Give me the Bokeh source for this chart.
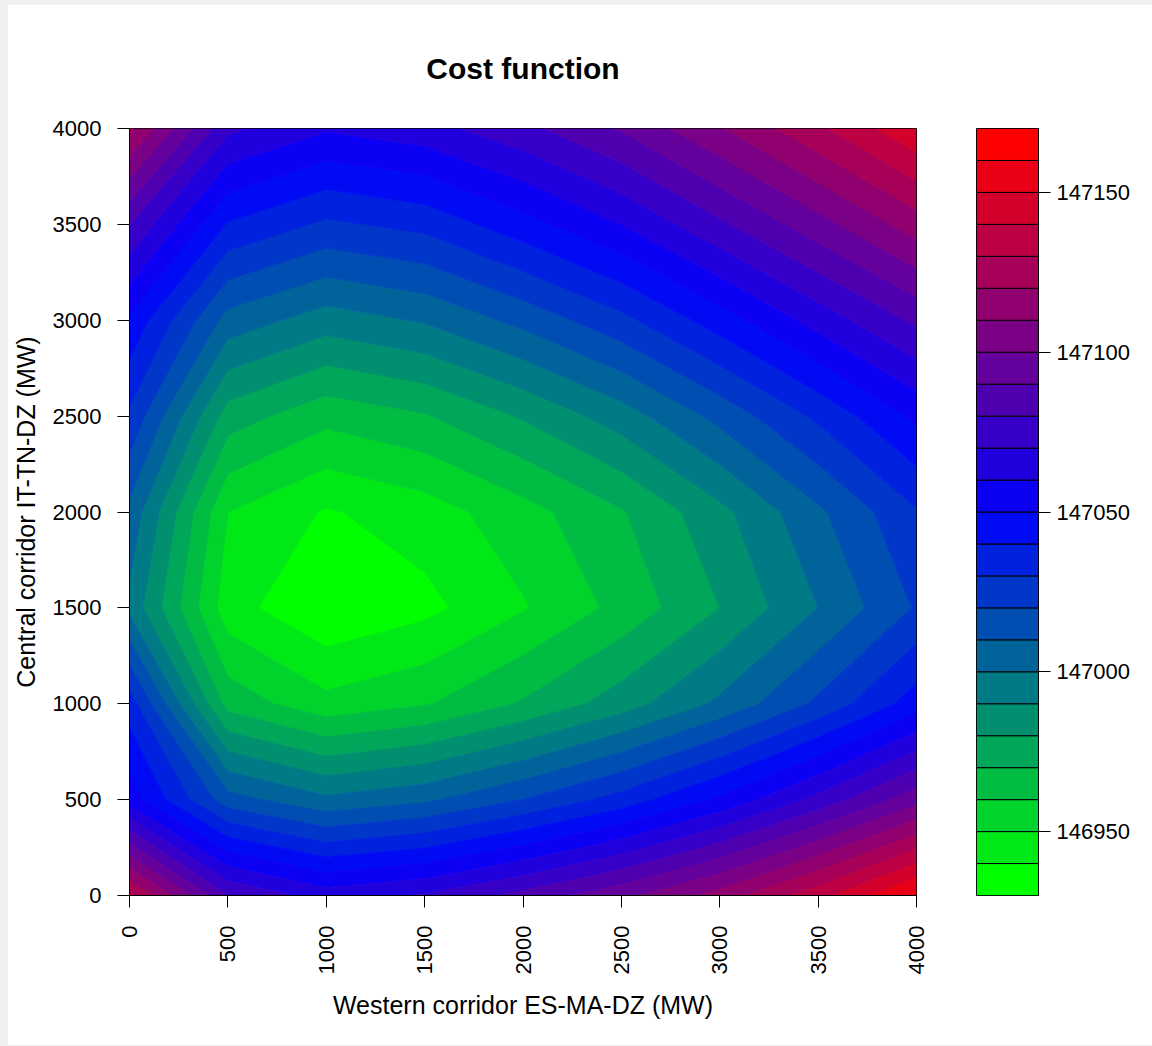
import math
from bokeh.plotting import figure
from bokeh.models import FixedTicker, Range1d, BasicTickFormatter
from bokeh.layouts import row
from bokeh.embed import file_html
from bokeh.resources import INLINE

# ---- data ----
x_mw = [0, 500, 1000, 1500, 2000, 2500, 3000, 3500, 4000]
y_mw = [0, 500, 1000, 1500, 2000, 2500, 3000, 3500, 4000]

cost_y0 = [147132, 147080, 147065, 147071, 147083, 147097, 147114, 147136, 147162]
cost_y500 = [147055, 147014, 147002, 147008, 147020, 147034, 147052, 147073, 147096]
cost_y1000 = [147035, 146966, 146953, 146959, 146971, 146985, 147002, 147022, 147045]
cost_y1500 = [146997, 146944, 146931, 146937, 146949, 146963, 146980, 147000, 147021]
cost_y2000 = [147007, 146950, 146939, 146945, 146956, 146969, 146987, 147008, 147029]
cost_y2500 = [147028, 146975, 146963, 146969, 146981, 146995, 147013, 147032, 147052]
cost_y3000 = [147048, 147006, 146995, 147001, 147013, 147027, 147045, 147064, 147082]
cost_y3500 = [147080, 147039, 147028, 147033, 147046, 147060, 147078, 147096, 147115]
cost_y4000 = [147122, 147072, 147061, 147066, 147077, 147091, 147109, 147128, 147148]

levels = [146930, 146940, 146950, 146960, 146970, 146980, 146990, 147000,
          147010, 147020, 147030, 147040, 147050, 147060, 147070, 147080,
          147090, 147100, 147110, 147120, 147130, 147140, 147150, 147160, 147170]
colorbar_ticks = [146950, 147000, 147050, 147100, 147150]
axis_ticks = [0, 500, 1000, 1500, 2000, 2500, 3000, 3500, 4000]

palette = ["#00FF00", "#00E916", "#00D32C", "#00BC43", "#00A659", "#00906F",
           "#007A85", "#00649B", "#004EB1", "#0037C8", "#0021DE", "#000BF4",
           "#0B00F4", "#2100DE", "#3700C8", "#4E00B1", "#64009B", "#7A0085",
           "#90006F", "#A60059", "#BC0043", "#D3002C", "#E90016", "#FF0000"]
# colour of the contour line at each level (the band just above it) to hide seams
level_line_colors = palette + [palette[-1]]

Z = [cost_y0, cost_y500, cost_y1000, cost_y1500, cost_y2000,
     cost_y2500, cost_y3000, cost_y3500, cost_y4000]

FONT = "Liberation Sans"
TICK_FS = "22px"
LABEL_FS = "25px"

# ---- main contour plot ----
p = figure(frame_width=787, frame_height=767,
           x_range=Range1d(0, 4000), y_range=Range1d(0, 4000),
           output_backend="svg", toolbar_location=None,
           min_border_left=121, min_border_top=123,
           min_border_right=32, min_border_bottom=150)
p.contour(x_mw, y_mw, Z, levels, fill_color=palette,
          line_color=level_line_colors, line_width=1.2)

p.grid.visible = False
p.outline_line_color = "black"
p.outline_line_width = 1
p.background_fill_color = "white"
p.border_fill_color = "white"

p.title.text = "Cost function"
p.title.align = "center"
p.title.text_font = FONT
p.title.text_font_size = "30px"
p.title.text_font_style = "bold"
p.title.text_color = "black"
p.title.standoff = 88

for ax in (p.xaxis[0], p.yaxis[0]):
    ax.ticker = FixedTicker(ticks=axis_ticks)
    ax.axis_line_color = "black"
    ax.major_tick_line_color = "black"
    ax.minor_tick_line_color = None
    ax.major_tick_out = 12
    ax.major_tick_in = 0
    ax.major_label_text_font = FONT
    ax.major_label_text_font_size = TICK_FS
    ax.major_label_text_color = "black"
    ax.axis_label_text_font = FONT
    ax.axis_label_text_font_size = LABEL_FS
    ax.axis_label_text_font_style = "normal"
    ax.axis_label_text_color = "black"

p.xaxis[0].axis_label = "Western corridor ES-MA-DZ (MW)"
p.yaxis[0].axis_label = "Central corridor IT-TN-DZ (MW)"
p.xaxis[0].major_label_orientation = math.pi / 2
p.xaxis[0].major_label_standoff = 18
p.yaxis[0].major_label_standoff = 16
p.xaxis[0].axis_label_standoff = 14
p.yaxis[0].axis_label_standoff = 10

# ---- colour key ----
cb = figure(frame_width=62, frame_height=767,
            x_range=Range1d(0, 1), y_range=Range1d(146930, 147170),
            output_backend="svg", toolbar_location=None,
            y_axis_location="right",
            min_border_left=28, min_border_top=123,
            min_border_right=114, min_border_bottom=150)
cb.quad(left=0, right=1, bottom=levels[:-1], top=levels[1:],
        fill_color=palette, line_color="black", line_width=1)
cb.grid.visible = False
cb.xaxis.visible = False
cb.outline_line_color = "black"
cb.background_fill_color = "white"
cb.border_fill_color = "white"
yax = cb.yaxis[0]
yax.ticker = FixedTicker(ticks=colorbar_ticks)
yax.formatter = BasicTickFormatter(use_scientific=False)
yax.axis_line_color = "black"
yax.major_tick_line_color = "black"
yax.minor_tick_line_color = None
yax.major_tick_out = 12
yax.major_tick_in = 0
yax.major_label_standoff = 6
yax.major_label_text_font = FONT
yax.major_label_text_font_size = TICK_FS
yax.major_label_text_color = "black"

layout = row(p, cb)
layout.margin = (5, 0, 0, 8)
layout.styles = {"background-color": "white"}
html = file_html(layout, INLINE, title="Cost function")
html = html.replace("</head>",
                    "<style>html, body { background-color: #efefef; }</style></head>", 1)
open("out.html", "w").write(html)
